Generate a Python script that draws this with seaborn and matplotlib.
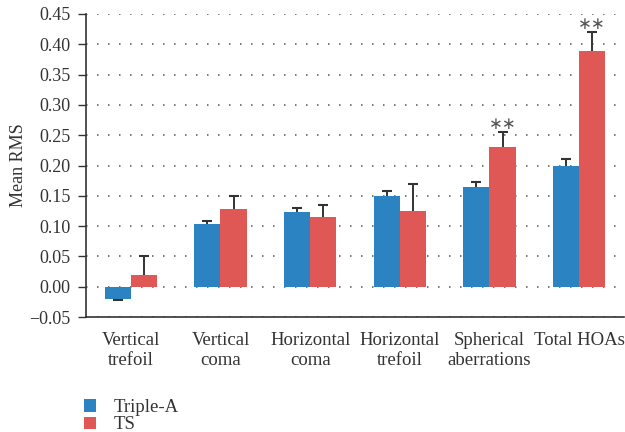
import matplotlib
matplotlib.use("Agg")
import matplotlib.pyplot as plt
import seaborn as sns
import pandas as pd

# Mean RMS of higher-order aberrations per group
categories = ["Vertical\ntrefoil", "Vertical\ncoma", "Horizontal\ncoma",
              "Horizontal\ntrefoil", "Spherical\naberrations", "Total HOAs"]
groups = ["Triple-A", "TS"]
triple_a_mean = [-0.020, 0.104, 0.124, 0.150, 0.165, 0.200]
triple_a_err = [0.002, 0.005, 0.006, 0.008, 0.008, 0.010]
ts_mean = [0.020, 0.129, 0.115, 0.125, 0.231, 0.389]
ts_err = [0.030, 0.021, 0.019, 0.044, 0.024, 0.031]
significance = ["", "", "", "", "∗∗", "∗∗"]

y_ticks = [-0.05, 0.00, 0.05, 0.10, 0.15, 0.20, 0.25, 0.30, 0.35, 0.40, 0.45]

colors = {"Triple-A": "#2b83c2", "TS": "#e05855"}

df = pd.DataFrame({
    "category": categories * 2,
    "group": [groups[0]] * len(categories) + [groups[1]] * len(categories),
    "value": triple_a_mean + ts_mean,
})

sns.set_theme(style="white")
plt.rcParams["font.family"] = ["Liberation Serif", "DejaVu Serif"]

fig = plt.figure(figsize=(6.25, 4.32), dpi=100)
ax = fig.add_axes([86 / 625, 1 - 317 / 432, 538 / 625, 303 / 432])

sns.barplot(data=df, x="category", y="value", hue="group", order=categories,
            hue_order=groups, palette=colors, width=0.58, errorbar=None,
            saturation=1, linewidth=0, ax=ax, legend=True, zorder=3)

# one-sided error bars pointing away from zero, capped only at the far end
err_sets = [triple_a_err, ts_err]
mean_sets = [triple_a_mean, ts_mean]
for container, means, errs in zip(ax.containers, mean_sets, err_sets):
    xs = [b.get_x() + b.get_width() / 2 for b in container]
    ends = [m - e if m < 0 else m + e for m, e in zip(means, errs)]
    ax.vlines(xs, means, ends, colors="#333333", linewidth=1.4, zorder=4)
    ax.plot(xs, ends, linestyle="none", marker="_", markersize=6.5,
            markeredgewidth=1.5, color="#333333", zorder=4)

# significance markers above TS bars
for bar, m, e, s in zip(ax.containers[1], ts_mean, ts_err, significance):
    if s:
        ax.text(bar.get_x() + bar.get_width() / 2, m + e + 0.013, s,
                ha="center", va="center", fontsize=12, color="#555555",
                family=["DejaVu Sans"])

ax.set_xlim(-0.5, len(categories) - 0.5)
ax.set_ylim(-0.05, 0.45)
ax.set_yticks(y_ticks)
ax.set_yticklabels([f"{t:.2f}".replace("-", "\u2212") for t in y_ticks])
ax.yaxis.grid(True, linestyle=(0, (1, 6.2)), linewidth=1.1, color="#555555")
ax.set_axisbelow(True)

ax.set_xlabel("")
ax.set_ylabel("Mean RMS", fontsize=13, color="#333333", labelpad=1.5)
ax.tick_params(axis="y", which="major", left=True, length=6, width=1,
               color="#333333", labelsize=13, labelcolor="#333333", pad=5)
ax.tick_params(axis="x", length=0, labelsize=13.5, labelcolor="#333333", pad=11)
for lbl in ax.get_xticklabels():
    lbl.set_linespacing(1.2)

for side in ["top", "right"]:
    ax.spines[side].set_visible(False)
for side in ["left", "bottom"]:
    ax.spines[side].set_color("#333333")
    ax.spines[side].set_linewidth(1.2)

handles, labels = ax.get_legend_handles_labels()
ax.legend(handles, labels, loc="upper left",
          bbox_to_anchor=(84 / 625, 1 - 399 / 432), bbox_transform=fig.transFigure,
          frameon=False, fontsize=13.5, handlelength=0.64, handleheight=0.64,
          handletextpad=0.95, labelspacing=0.02, borderpad=0, borderaxespad=0,
          labelcolor="#333333")

fig.savefig("out.png", dpi=100)
